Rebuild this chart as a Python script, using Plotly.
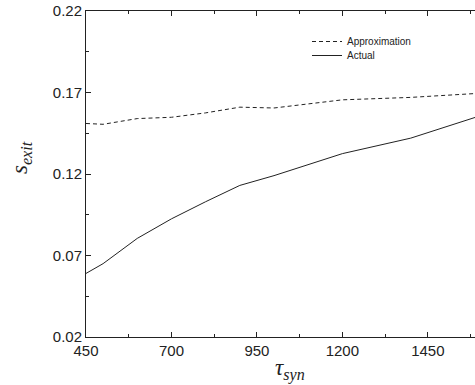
import plotly.graph_objects as go

tau_syn = [450, 500, 600, 700, 800, 900, 1000, 1200, 1400, 1600]
approximation = [0.151, 0.1505, 0.154, 0.1548, 0.1575, 0.161, 0.1605, 0.1655, 0.167, 0.1695]
actual = [0.059, 0.065, 0.0805, 0.0925, 0.103, 0.113, 0.119, 0.1325, 0.142, 0.1555]

x_ticks = [450, 700, 950, 1200, 1450]
y_ticks = [0.02, 0.07, 0.12, 0.17, 0.22]

W, H = 475, 385
L, R, T, B = 86, 0, 11, 48
PW, PH = W - L - R, H - T - B

fig = go.Figure()
fig.add_trace(go.Scatter(x=tau_syn, y=approximation, mode="lines", name="Approximation",
                         line=dict(color="#222", width=1, dash="4px,3px"), legend="legend"))
fig.add_trace(go.Scatter(x=tau_syn, y=actual, mode="lines", name="Actual",
                         line=dict(color="#222", width=1), legend="legend2"))

axis_font = dict(family="Liberation Sans, Arial, sans-serif", size=15, color="#222")
leg_font = dict(family="Liberation Sans, Arial, sans-serif", size=10, color="#222")
fig.update_layout(
    width=W, height=H,
    margin=dict(l=L, r=R, t=T, b=B),
    paper_bgcolor="white", plot_bgcolor="white",
    showlegend=True,
    legend=dict(x=(307 - L) / PW, y=1 - (27 - T) / PH, xanchor="left", yanchor="top",
                font=leg_font, bgcolor="rgba(0,0,0,0)", itemwidth=30),
    legend2=dict(x=(307 - L) / PW, y=1 - (41 - T) / PH, xanchor="left", yanchor="top",
                 font=leg_font, bgcolor="rgba(0,0,0,0)", itemwidth=30),
    xaxis=dict(range=[450, 1588], tickvals=x_ticks, ticktext=[str(v) for v in x_ticks],
               showgrid=False, zeroline=False, showline=True, linecolor="#222", linewidth=1,
               mirror="ticks", ticks="inside", ticklen=5, tickcolor="#222", tickfont=axis_font,
               minor=dict(ticks="inside", ticklen=3, tick0=450, dtick=125, tickcolor="#222", showgrid=False)),
    yaxis=dict(range=[0.02, 0.22], tickvals=y_ticks, ticktext=[f"{v:.2f}" for v in y_ticks],
               showgrid=False, zeroline=False, showline=True, linecolor="#222", linewidth=1,
               ticks="inside", ticklen=5, tickcolor="#222", tickfont=axis_font,
               minor=dict(ticks="inside", ticklen=3, tick0=0.02, dtick=0.025, tickcolor="#222", showgrid=False)),
)
fig.add_annotation(text="<i>s</i><sub><i>exit</i></sub>", xref="paper", yref="paper",
                   x=-(86 - 21) / PW, y=1 - (158 - T) / PH, xanchor="center", yanchor="middle",
                   textangle=-90, showarrow=False,
                   font=dict(family="Liberation Serif, DejaVu Serif, serif", size=23, color="#222"))
fig.add_annotation(text="<i>τ</i><sub><i>syn</i></sub>", xref="paper", yref="paper",
                   x=(290 - L) / PW, y=-(369 - (H - B)) / PH, xanchor="center", yanchor="middle",
                   showarrow=False,
                   font=dict(family="Liberation Serif, DejaVu Serif, serif", size=23, color="#222"))
fig.write_html("out.html")
